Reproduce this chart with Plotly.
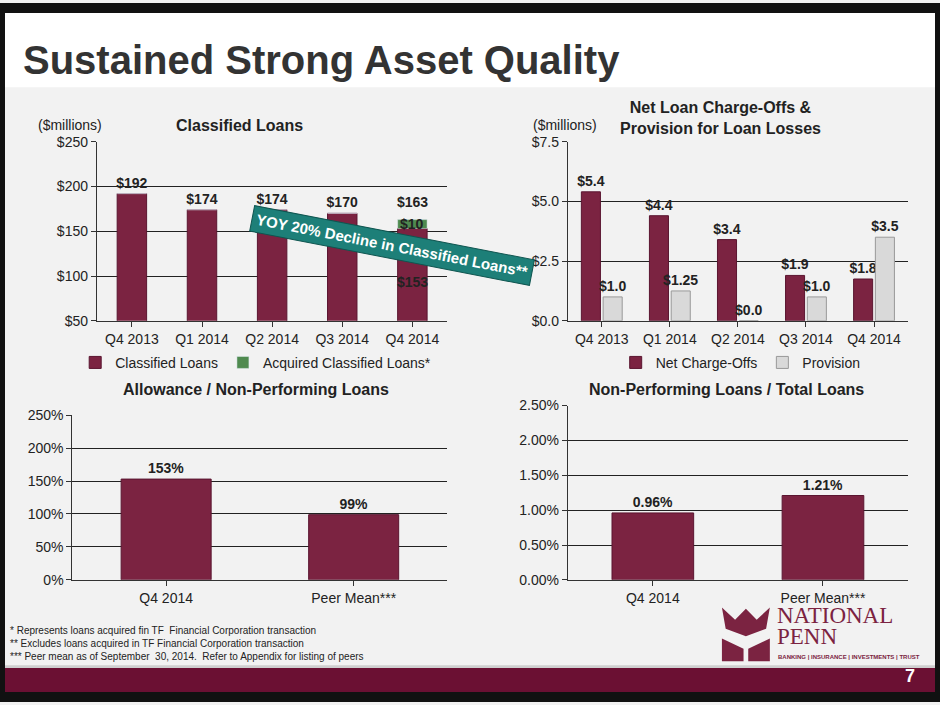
import plotly.graph_objects as go

quarters = ["Q4 2013", "Q1 2014", "Q2 2014", "Q3 2014", "Q4 2014"]
classified = [192, 174, 174, 170, 153]
acquired = [0, 0, 0, 0, 10]
classified_labels = ["$192", "$174", "$174", "$170", ""]
nco = [5.4, 4.4, 3.4, 1.9, 1.75]
nco_labels = ["$5.4", "$4.4", "$3.4", "$1.9", "$1.8"]
provision = [1.0, 1.25, 0.0, 1.0, 3.5]
prov_labels = ["$1.0", "$1.25", "$0.0", "$1.0", "$3.5"]
cmp_cats = ["Q4 2014", "Peer Mean***"]
allowance = [153, 99]
allowance_labels = ["153%", "99%"]
npl = [0.96, 1.21]
npl_labels = ["0.96%", "1.21%"]

MAROON = "#7b2341"
GREEN = "#4f8a4f"
SILVER = "#d9d9d9"
FONT = "Liberation Sans, Arial, sans-serif"
LBL = dict(size=14, color="#222", family=FONT)

fig = go.Figure()
fig.add_trace(go.Bar(x=quarters, y=classified, name="Classified Loans", marker=dict(color=MAROON, line=dict(color="#5a1530", width=1)),
                     text=classified_labels, textposition="outside", textfont=LBL, constraintext="none",
                     texttemplate="<b>%{text}</b>", xaxis="x", yaxis="y", legend="legend", cliponaxis=False,
                     offsetgroup="c", width=0.42))
fig.add_trace(go.Bar(x=quarters, y=acquired, base=classified, name="Acquired Classified Loans*", marker=dict(color=GREEN),
                     xaxis="x", yaxis="y", legend="legend", offsetgroup="c", width=0.42))
fig.add_trace(go.Bar(x=quarters, y=nco, name="Net Charge-Offs", marker=dict(color=MAROON, line=dict(color="#5a1530", width=1)),
                     text=nco_labels, textposition="outside", textfont=LBL, constraintext="none", texttemplate="<b>%{text}</b>",
                     xaxis="x2", yaxis="y2", legend="legend2", cliponaxis=False, width=0.28, offset=-0.3))
fig.add_trace(go.Bar(x=quarters, y=provision, name="Provision", marker=dict(color=SILVER, line=dict(color="#999", width=1)),
                     text=prov_labels, textposition="outside", textfont=LBL, constraintext="none", texttemplate="<b>%{text}</b>",
                     xaxis="x2", yaxis="y2", legend="legend2", cliponaxis=False, width=0.28, offset=0.02))
fig.add_trace(go.Bar(x=cmp_cats, y=allowance, marker=dict(color=MAROON, line=dict(color="#5a1530", width=1)), width=0.48,
                     text=allowance_labels, textposition="outside", textfont=LBL, constraintext="none", texttemplate="<b>%{text}</b>",
                     xaxis="x3", yaxis="y3", showlegend=False, cliponaxis=False))
fig.add_trace(go.Bar(x=cmp_cats, y=npl, marker=dict(color=MAROON, line=dict(color="#5a1530", width=1)), width=0.48,
                     text=npl_labels, textposition="outside", textfont=LBL, constraintext="none", texttemplate="<b>%{text}</b>",
                     xaxis="x4", yaxis="y4", showlegend=False, cliponaxis=False))

ax = dict(showline=True, linecolor="#333", ticks="outside", tickcolor="#333", tickfont=dict(size=14, color="#222", family=FONT), fixedrange=True)
yax = dict(showline=True, linecolor="#333", ticks="outside", tickcolor="#333", showgrid=True, gridcolor="#222", gridwidth=1,
           tickfont=dict(size=14, color="#222", family=FONT), zeroline=False, fixedrange=True)

fig.update_layout(
    width=940, height=705, margin=dict(l=0, r=0, t=0, b=0),
    paper_bgcolor="#f2f2f2", plot_bgcolor="rgba(0,0,0,0)",
    barmode="group",
    font=dict(family=FONT, color="#222"),
    xaxis=dict(domain=[0.103, 0.476], anchor="y", **ax),
    yaxis=dict(domain=[0.546, 0.806], anchor="x", range=[50, 250], dtick=50, tickprefix="$", **yax),
    xaxis2=dict(domain=[0.604, 0.966], anchor="y2", **ax),
    yaxis2=dict(domain=[0.546, 0.806], anchor="x2", range=[0, 7.5], dtick=2.5, tickprefix="$", tickformat=".1f", **yax),
    xaxis3=dict(domain=[0.077, 0.476], anchor="y3", **ax),
    yaxis3=dict(domain=[0.170, 0.409], anchor="x3", range=[0, 250], dtick=50, ticksuffix="%", **yax),
    xaxis4=dict(domain=[0.604, 0.966], anchor="y4", **ax),
    yaxis4=dict(domain=[0.170, 0.423], anchor="x4", range=[0, 2.5], dtick=0.5, tickformat=".2f", ticksuffix="%", **yax),
    legend=dict(orientation="h", x=0.08, y=0.485, xanchor="left", yanchor="middle", bgcolor="rgba(0,0,0,0)",
                font=dict(size=14, family=FONT), traceorder="normal", itemwidth=30),
    legend2=dict(orientation="h", x=0.655, y=0.485, xanchor="left", yanchor="middle", bgcolor="rgba(0,0,0,0)",
                 font=dict(size=14, family=FONT), itemwidth=30),
)

shapes = [
    dict(type="rect", xref="paper", yref="paper", x0=0, x1=1, y0=0, y1=1, line=dict(color="#111", width=10), fillcolor="rgba(0,0,0,0)", layer="above"),
    dict(type="rect", xref="paper", yref="paper", x0=0.005, x1=0.995, y0=0.885, y1=0.993, line=dict(width=0), fillcolor="#ffffff", layer="below"),
    dict(type="rect", xref="paper", yref="paper", x0=0.005, x1=0.995, y0=0.007, y1=0.042, line=dict(width=0), fillcolor="#6b1033", layer="below"),
    dict(type="rect", xref="paper", yref="paper", x0=0.005, x1=0.995, y0=0.042, y1=0.046, line=dict(width=0), fillcolor="#cfcfcf", layer="below"),
    dict(type="path", xref="paper", yref="paper",
         path="M 0.768 0.130 L 0.782 0.112 L 0.7935 0.128 L 0.805 0.112 L 0.819 0.130 L 0.815 0.099 L 0.7935 0.088 L 0.772 0.099 Z",
         fillcolor="#7b2341", line=dict(width=0)),
    dict(type="path", xref="paper", yref="paper",
         path="M 0.768 0.085 L 0.791 0.070 L 0.791 0.052 L 0.768 0.052 Z M 0.819 0.085 L 0.796 0.070 L 0.796 0.052 L 0.819 0.052 Z",
         fillcolor="#7b2341", line=dict(width=0)),
]
fig.update_layout(shapes=shapes)

ann = [
    dict(text="<b>Sustained Strong Asset Quality</b>", x=0.022, y=0.925, xref="paper", yref="paper", xanchor="left", yanchor="middle",
         showarrow=False, font=dict(size=40, color="#333", family=FONT)),
    dict(text="($millions)", x=0.038, y=0.816, xref="paper", yref="paper", xanchor="left", yanchor="bottom", showarrow=False, font=dict(size=14)),
    dict(text="<b>Classified Loans</b>", x=0.255, y=0.814, xref="paper", yref="paper", xanchor="center", yanchor="bottom", showarrow=False, font=dict(size=16)),
    dict(text="($millions)", x=0.565, y=0.816, xref="paper", yref="paper", xanchor="left", yanchor="bottom", showarrow=False, font=dict(size=14)),
    dict(text="<b>Net Loan Charge-Offs &<br>Provision for Loan Losses</b>", x=0.767, y=0.81, xref="paper", yref="paper", xanchor="center", yanchor="bottom", showarrow=False, font=dict(size=16)),
    dict(text="<b>Allowance / Non-Performing Loans</b>", x=0.272, y=0.447, xref="paper", yref="paper", xanchor="center", showarrow=False, font=dict(size=16)),
    dict(text="<b>Non-Performing Loans / Total Loans</b>", x=0.773, y=0.447, xref="paper", yref="paper", xanchor="center", showarrow=False, font=dict(size=16)),
    dict(text="<b>$%d</b>" % (classified[4] + acquired[4]), x=quarters[4], y=classified[4] + acquired[4] + 20, xref="x", yref="y", showarrow=False, font=dict(size=14)),
    dict(text="<b>$%d</b>" % acquired[4], x=quarters[4], y=classified[4] + acquired[4] / 2, xref="x", yref="y", showarrow=False, font=dict(size=14)),
    dict(text="<b>$%d</b>" % classified[4], x=quarters[4], y=classified[4] - 60, xref="x", yref="y", showarrow=False, font=dict(size=14)),
    dict(text="<b>YOY 20% Decline in Classified Loans**</b>", x=0.265, y=0.655, xref="paper", yref="paper", showarrow=False,
         textangle=11, bgcolor="#1d7f78", bordercolor="#0f5550", borderpad=4, font=dict(size=15, color="white")),
    dict(text="* Represents loans acquired fin TF  Financial Corporation transaction<br>** Excludes loans acquired in TF Financial Corporation transaction<br>*** Peer mean as of September  30, 2014.  Refer to Appendix for listing of peers",
         x=0.008, y=0.048, xref="paper", yref="paper", xanchor="left", yanchor="bottom", align="left", showarrow=False,
         font=dict(size=10, color="#222")),
    dict(text="NATIONAL", x=0.824, y=0.119, xref="paper", yref="paper", xanchor="left", yanchor="middle",
         showarrow=False, font=dict(size=23, color="#7b2341", family="Liberation Serif, serif")),
    dict(text="PENN", x=0.824, y=0.088, xref="paper", yref="paper", xanchor="left", yanchor="middle",
         showarrow=False, font=dict(size=23, color="#7b2341", family="Liberation Serif, serif")),
    dict(text="<b>BANKING | INSURANCE | INVESTMENTS | TRUST</b>", x=0.826, y=0.058, xref="paper", yref="paper", xanchor="left", yanchor="middle",
         showarrow=False, font=dict(size=6, color="#7b2341")),
    dict(text="<b>7</b>", x=0.976, y=0.03, xref="paper", yref="paper", xanchor="right", yanchor="middle", showarrow=False, font=dict(size=18, color="white")),
]
for a in ann:
    if "family" not in a["font"]:
        a["font"]["family"] = FONT
fig.update_layout(annotations=ann)
fig.write_html("out.html", config={"displayModeBar": False},
               post_script="document.body.style.margin='0';document.body.style.overflow='hidden';")
